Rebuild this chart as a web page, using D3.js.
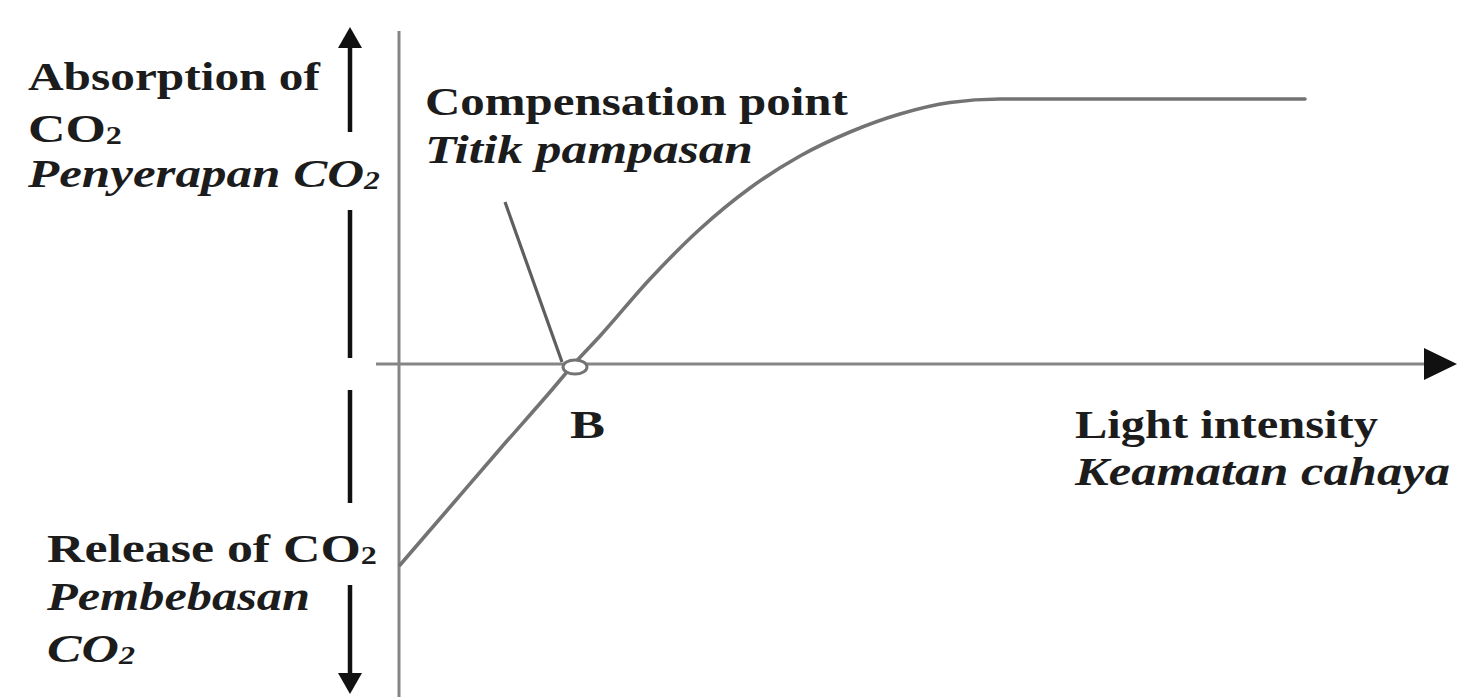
<!DOCTYPE html>
<html>
<head>
<meta charset="utf-8">
<script src="https://cdn.jsdelivr.net/npm/d3@7/dist/d3.min.js"></script>
<style>
  html, body { margin: 0; padding: 0; background: #fff; }
  svg { display: block; }
  text { font-family: "Liberation Serif", "Times New Roman", serif; font-weight: bold; fill: #1c1c1c; }
</style>
</head>
<body>
<svg id="chart" width="1457" height="697"></svg>
<script>
// Net CO2 exchange against light intensity (arbitrary units)
const lightIntensity = [0, 0.5, 1.0, 1.5, 1.73, 2.0, 2.5, 3.0, 3.5, 4.0, 4.5, 5.0, 5.5, 6.0, 6.5, 7.5, 9.05];
const co2Exchange    = [-2.0, -1.42, -0.84, -0.27, 0, 0.29, 0.86, 1.36, 1.77, 2.09, 2.33, 2.51, 2.625, 2.66, 2.66, 2.66, 2.66];
const compensationPoint = { x: 1.73, y: 0, label: "B" };

const yLabelsTop    = [["Absorption of", false], ["CO|2", false], ["Penyerapan CO|2", true]];
const yLabelsBottom = [["Release of CO|2", false], ["Pembebasan", true], ["CO|2", true]];
const xLabels       = [["Light intensity", false], ["Keamatan cahaya", true]];
const pointLabels   = [["Compensation point", false], ["Titik pampasan", true]];

const svg = d3.select("#chart");
const W = 1457, H = 697;

const x = d3.scaleLinear().domain([0, 10]).range([400, 1400]);
const y = d3.scaleLinear().domain([-3, 3]).range([665, 65]);

const axisColor = "#858585";
const curveColor = "#737373";

// axes
svg.append("line")
  .attr("x1", x(0) - 1).attr("x2", x(0) - 1)
  .attr("y1", 31).attr("y2", H)
  .attr("stroke", axisColor).attr("stroke-width", 3);

svg.append("line")
  .attr("x1", x(0) - 24).attr("x2", W - 30)
  .attr("y1", y(0) - 1).attr("y2", y(0) - 1)
  .attr("stroke", axisColor).attr("stroke-width", 3.2);

svg.append("path")
  .attr("d", `M${W - 33},${y(0) - 17} L${W},${y(0) - 1} L${W - 33},${y(0) + 15} Z`)
  .attr("fill", "#111");

// response curve
const line = d3.line()
  .x((d, i) => x(lightIntensity[i]))
  .y(d => y(d))
  .curve(d3.curveMonotoneX);

svg.append("path")
  .datum(co2Exchange)
  .attr("d", line)
  .attr("fill", "none")
  .attr("stroke", curveColor)
  .attr("stroke-width", 3.6)
  .attr("stroke-linecap", "round");

// leader from the label to the compensation point
svg.append("line")
  .attr("x1", 505).attr("y1", 202)
  .attr("x2", x(compensationPoint.x) - 11).attr("y2", y(compensationPoint.y) - 3)
  .attr("stroke", "#5e5e5e").attr("stroke-width", 3.2);

svg.append("ellipse")
  .attr("cx", x(compensationPoint.x) + 2)
  .attr("cy", y(compensationPoint.y) + 2)
  .attr("rx", 12).attr("ry", 7)
  .attr("fill", "#fff")
  .attr("stroke", curveColor).attr("stroke-width", 3);

// vertical direction arrows (dashed shaft with heads at both ends)
const arrowX = 350;
const shaftSegments = [[46, 132], [210, 358], [390, 503], [585, 676]];
svg.selectAll("line.shaft")
  .data(shaftSegments)
  .join("line")
  .attr("class", "shaft")
  .attr("x1", arrowX).attr("x2", arrowX)
  .attr("y1", d => d[0]).attr("y2", d => d[1])
  .attr("stroke", "#111").attr("stroke-width", 4.5);

svg.append("path")
  .attr("d", `M${arrowX - 12},48 L${arrowX},27 L${arrowX + 12},48 Z`)
  .attr("fill", "#111");
svg.append("path")
  .attr("d", `M${arrowX - 12},673 L${arrowX},694 L${arrowX + 12},673 Z`)
  .attr("fill", "#111");

// text helper: "|" marks the start of a subscript; width stretches the glyphs horizontally
function label(str, italic, px, py, width, size) {
  const parts = str.split("|");
  const t = svg.append("text")
    .attr("x", px).attr("y", py)
    .attr("font-size", size)
    .attr("font-style", italic ? "italic" : "normal");
  t.append("tspan").text(parts[0]);
  if (parts.length > 1) {
    t.append("tspan")
      .attr("font-size", size * 0.62)
      .attr("dy", 2)
      .text(parts[1]);
  }
  const natural = t.node().getComputedTextLength();
  const sx = width / natural;
  t.attr("transform", `translate(${px},0) scale(${sx},1) translate(${-px},0)`);
  return t;
}

const fs = 40;
const topSpec = [[28, 90, 292], [28, 142, 94], [28, 187, 352]];
yLabelsTop.forEach((d, i) => label(d[0], d[1], topSpec[i][0], topSpec[i][1], topSpec[i][2], fs));

const bottomSpec = [[47, 562, 330], [47, 610, 263], [47, 662, 88]];
yLabelsBottom.forEach((d, i) => label(d[0], d[1], bottomSpec[i][0], bottomSpec[i][1], bottomSpec[i][2], fs));

const xSpec = [[1075, 438, 303], [1075, 485, 375]];
xLabels.forEach((d, i) => label(d[0], d[1], xSpec[i][0], xSpec[i][1], xSpec[i][2], fs));

const pSpec = [[425, 115, 423], [425, 163, 328]];
pointLabels.forEach((d, i) => label(d[0], d[1], pSpec[i][0], pSpec[i][1], pSpec[i][2], fs));

label(compensationPoint.label, false, 570, 438, 35, fs);
</script>
</body>
</html>
